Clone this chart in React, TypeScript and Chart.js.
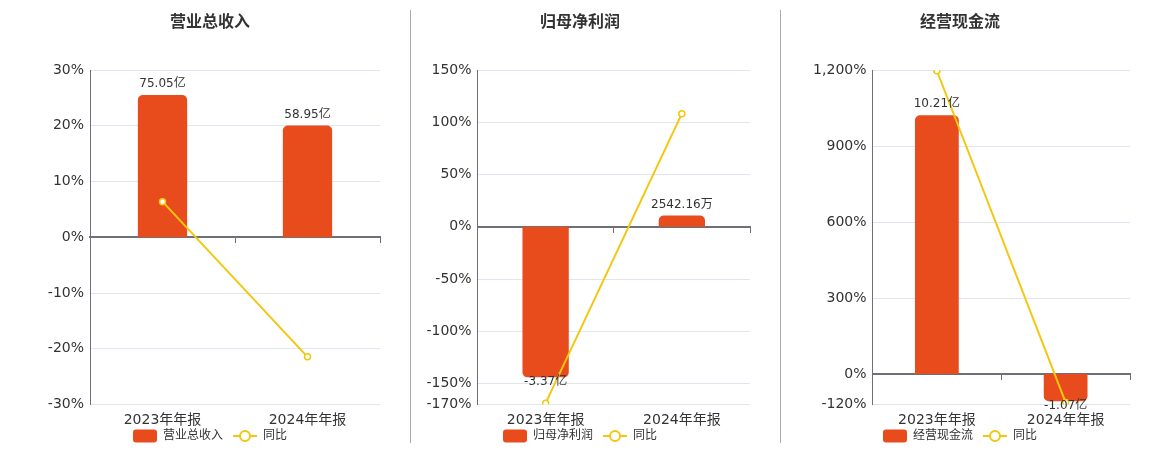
import React, { useEffect, useRef } from "react";
import { Chart, registerables } from "chart.js";

Chart.register(...registerables);

// ---------------- data ----------------
const categories = ["2023年年报", "2024年年报"];
const yoyName = "同比";

const revenueTitle = "营业总收入";
const revenueValues = [75.05, 58.95];
const revenueLabels = ["75.05亿", "58.95亿"];
const revenueYoY = [6.39, -21.45];
const revenueTicks = [-30, -20, -10, 0, 10, 20, 30];

const profitTitle = "归母净利润";
const profitValues = [-3.37, 0.254216];
const profitLabels = ["-3.37亿", "2542.16万"];
const profitYoY = [-168.7, 108.2];
const profitTicks = [-170, -150, -100, -50, 0, 50, 100, 150];

const cashTitle = "经营现金流";
const cashValues = [10.21, -1.07];
const cashLabels = ["10.21亿", "-1.07亿"];
const cashYoY = [1197, -112];
const cashTicks = [-120, 0, 300, 600, 900, 1200];

// ---------------- style ----------------
const FONT = '"DejaVu Sans", "Noto Sans CJK SC", sans-serif';
const BAR = "#E84C1D";
const YELLOW = "#F3C70F";
const GRID = "#E0E6F1";
const AXIS = "#6E7079";
const TEXT = "#333333";

type PanelDef = {
  left: number;
  yWidth: number;
  title: string;
  values: number[];
  labels: string[];
  yoy: number[];
  ticks: number[];
  barMax: number;
};

const panels: PanelDef[] = [
  { left: 40, yWidth: 50, title: revenueTitle, values: revenueValues, labels: revenueLabels, yoy: revenueYoY, ticks: revenueTicks, barMax: 88.2 },
  { left: 410, yWidth: 67.5, title: profitTitle, values: profitValues, labels: profitLabels, yoy: profitYoY, ticks: profitTicks, barMax: 3.51 },
  { left: 790, yWidth: 82.5, title: cashTitle, values: cashValues, labels: cashLabels, yoy: cashYoY, ticks: cashTicks, barMax: 12 },
];

const CW = 350;
const CH = 450;
const PAD_RIGHT = 10;

function Panel({ p }: { p: PanelDef }) {
  const ref = useRef<HTMLCanvasElement>(null);
  useEffect(() => {
    const lineMin = p.ticks[0];
    const lineMax = p.ticks[p.ticks.length - 1];
    const barMin = (p.barMax * lineMin) / lineMax;

    const labelPlugin = {
      id: "barLabels",
      afterDatasetsDraw(chart: any) {
        const meta = chart.getDatasetMeta(1);
        const ctx = chart.ctx;
        ctx.save();
        ctx.font = `12px ${FONT}`;
        ctx.fillStyle = TEXT;
        ctx.textAlign = "center";
        ctx.textBaseline = "middle";
        meta.data.forEach((el: any, i: number) => {
          const v = p.values[i];
          const y = v >= 0 ? el.y - 11 : el.y + 5;
          ctx.fillText(p.labels[i], el.x, y);
        });
        ctx.restore();
      },
    };

    const legendPlugin = {
      id: "comboLegend",
      afterDraw(chart: any) {
        const ctx = chart.ctx;
        ctx.save();
        ctx.font = `12px ${FONT}`;
        const t1 = ctx.measureText(p.title).width;
        const t2 = ctx.measureText(yoyName).width;
        const total = 24 + 6 + t1 + 10 + 24 + 6 + t2;
        const cx = (chart.width - PAD_RIGHT) / 2;
        let x = cx - total / 2;
        const y = 436;
        ctx.fillStyle = BAR;
        ctx.beginPath();
        ctx.roundRect(x, y - 6.5, 24, 13, 3);
        ctx.fill();
        x += 30;
        ctx.fillStyle = TEXT;
        ctx.textAlign = "left";
        ctx.textBaseline = "middle";
        ctx.fillText(p.title, x, y);
        x += t1 + 10;
        ctx.strokeStyle = YELLOW;
        ctx.lineWidth = 2;
        ctx.beginPath();
        ctx.moveTo(x, y);
        ctx.lineTo(x + 24, y);
        ctx.stroke();
        ctx.beginPath();
        ctx.arc(x + 12, y, 5, 0, Math.PI * 2);
        ctx.fillStyle = "#fff";
        ctx.fill();
        ctx.stroke();
        x += 30;
        ctx.fillStyle = TEXT;
        ctx.fillText(yoyName, x, y);
        ctx.restore();
      },
    };

    const chart = new Chart(ref.current!, {
      type: "bar",
      data: {
        labels: categories,
        datasets: [
          {
            type: "line",
            label: yoyName,
            data: p.yoy,
            yAxisID: "y",
            xAxisID: "x",
            order: 0,
            borderColor: YELLOW,
            borderWidth: 2,
            pointRadius: 3,
            pointBorderWidth: 1.5,
            pointBackgroundColor: "#fff",
            pointBorderColor: YELLOW,
            tension: 0,
          } as any,
          {
            type: "bar",
            label: p.title,
            data: p.values,
            yAxisID: "y1",
            xAxisID: "x",
            order: 1,
            backgroundColor: BAR,
            borderRadius: 5,
            borderSkipped: "start",
            barPercentage: 0.34,
            categoryPercentage: 1,
          } as any,
        ],
      },
      options: {
        responsive: false,
        animation: false,
        layout: { padding: { left: 0, right: PAD_RIGHT, top: 0, bottom: 14.7 } },
        plugins: {
          tooltip: { enabled: false },
          legend: { display: false },
          title: {
            display: true,
            text: p.title,
            color: TEXT,
            font: { size: 16, weight: "bold", family: FONT },
            padding: { top: 13.4, bottom: 37.4 },
          },
        },
        scales: {
          x: {
            type: "category",
            grid: { display: false, drawTicks: false },
            border: { display: false },
            ticks: { color: TEXT, font: { size: 14, family: FONT }, padding: 7, maxRotation: 0, autoSkip: false },
          },
          x2: {
            type: "category",
            labels: categories,
            position: { y: 0 } as any,
            offset: true,
            grid: { offset: true, drawOnChartArea: false, drawTicks: true, tickLength: 5, color: AXIS, lineWidth: 1 },
            border: { display: true, color: AXIS, width: 2 },
            ticks: { display: false },
          },
          y: {
            type: "linear",
            position: "left",
            min: lineMin,
            max: lineMax,
            afterBuildTicks: (s: any) => {
              s.ticks = p.ticks.map((v) => ({ value: v }));
            },
            grid: { color: GRID, drawTicks: false, lineWidth: 1 },
            border: { display: true, color: AXIS, width: 1 },
            ticks: {
              color: TEXT,
              font: { size: 14, family: FONT },
              padding: 6,
              callback: (v: any) => Number(v).toLocaleString("en-US") + "%",
            },
            afterFit: (s: any) => {
              s.width = p.yWidth;
            },
          },
          y1: {
            type: "linear",
            display: false,
            min: barMin,
            max: p.barMax,
          },
        },
      } as any,
      plugins: [labelPlugin, legendPlugin],
    });
    return () => chart.destroy();
  }, []);
  return (
    <div style={{ position: "absolute", left: p.left, top: 0, width: CW, height: CH }}>
      <canvas ref={ref} width={CW} height={CH} style={{ width: CW, height: CH, display: "block" }} />
    </div>
  );
}

export default function App() {
  return (
    <div
      style={{
        position: "absolute",
        left: 0,
        top: 0,
        width: 1160,
        height: 450,
        overflow: "hidden",
        background: "#fff",
      }}
    >
      {panels.map((p) => (
        <Panel key={p.title} p={p} />
      ))}
      <div style={{ position: "absolute", left: 410, top: 10, width: 1, height: 433, background: "#AAAAAA" }} />
      <div style={{ position: "absolute", left: 780, top: 10, width: 1, height: 433, background: "#AAAAAA" }} />
    </div>
  );
}
